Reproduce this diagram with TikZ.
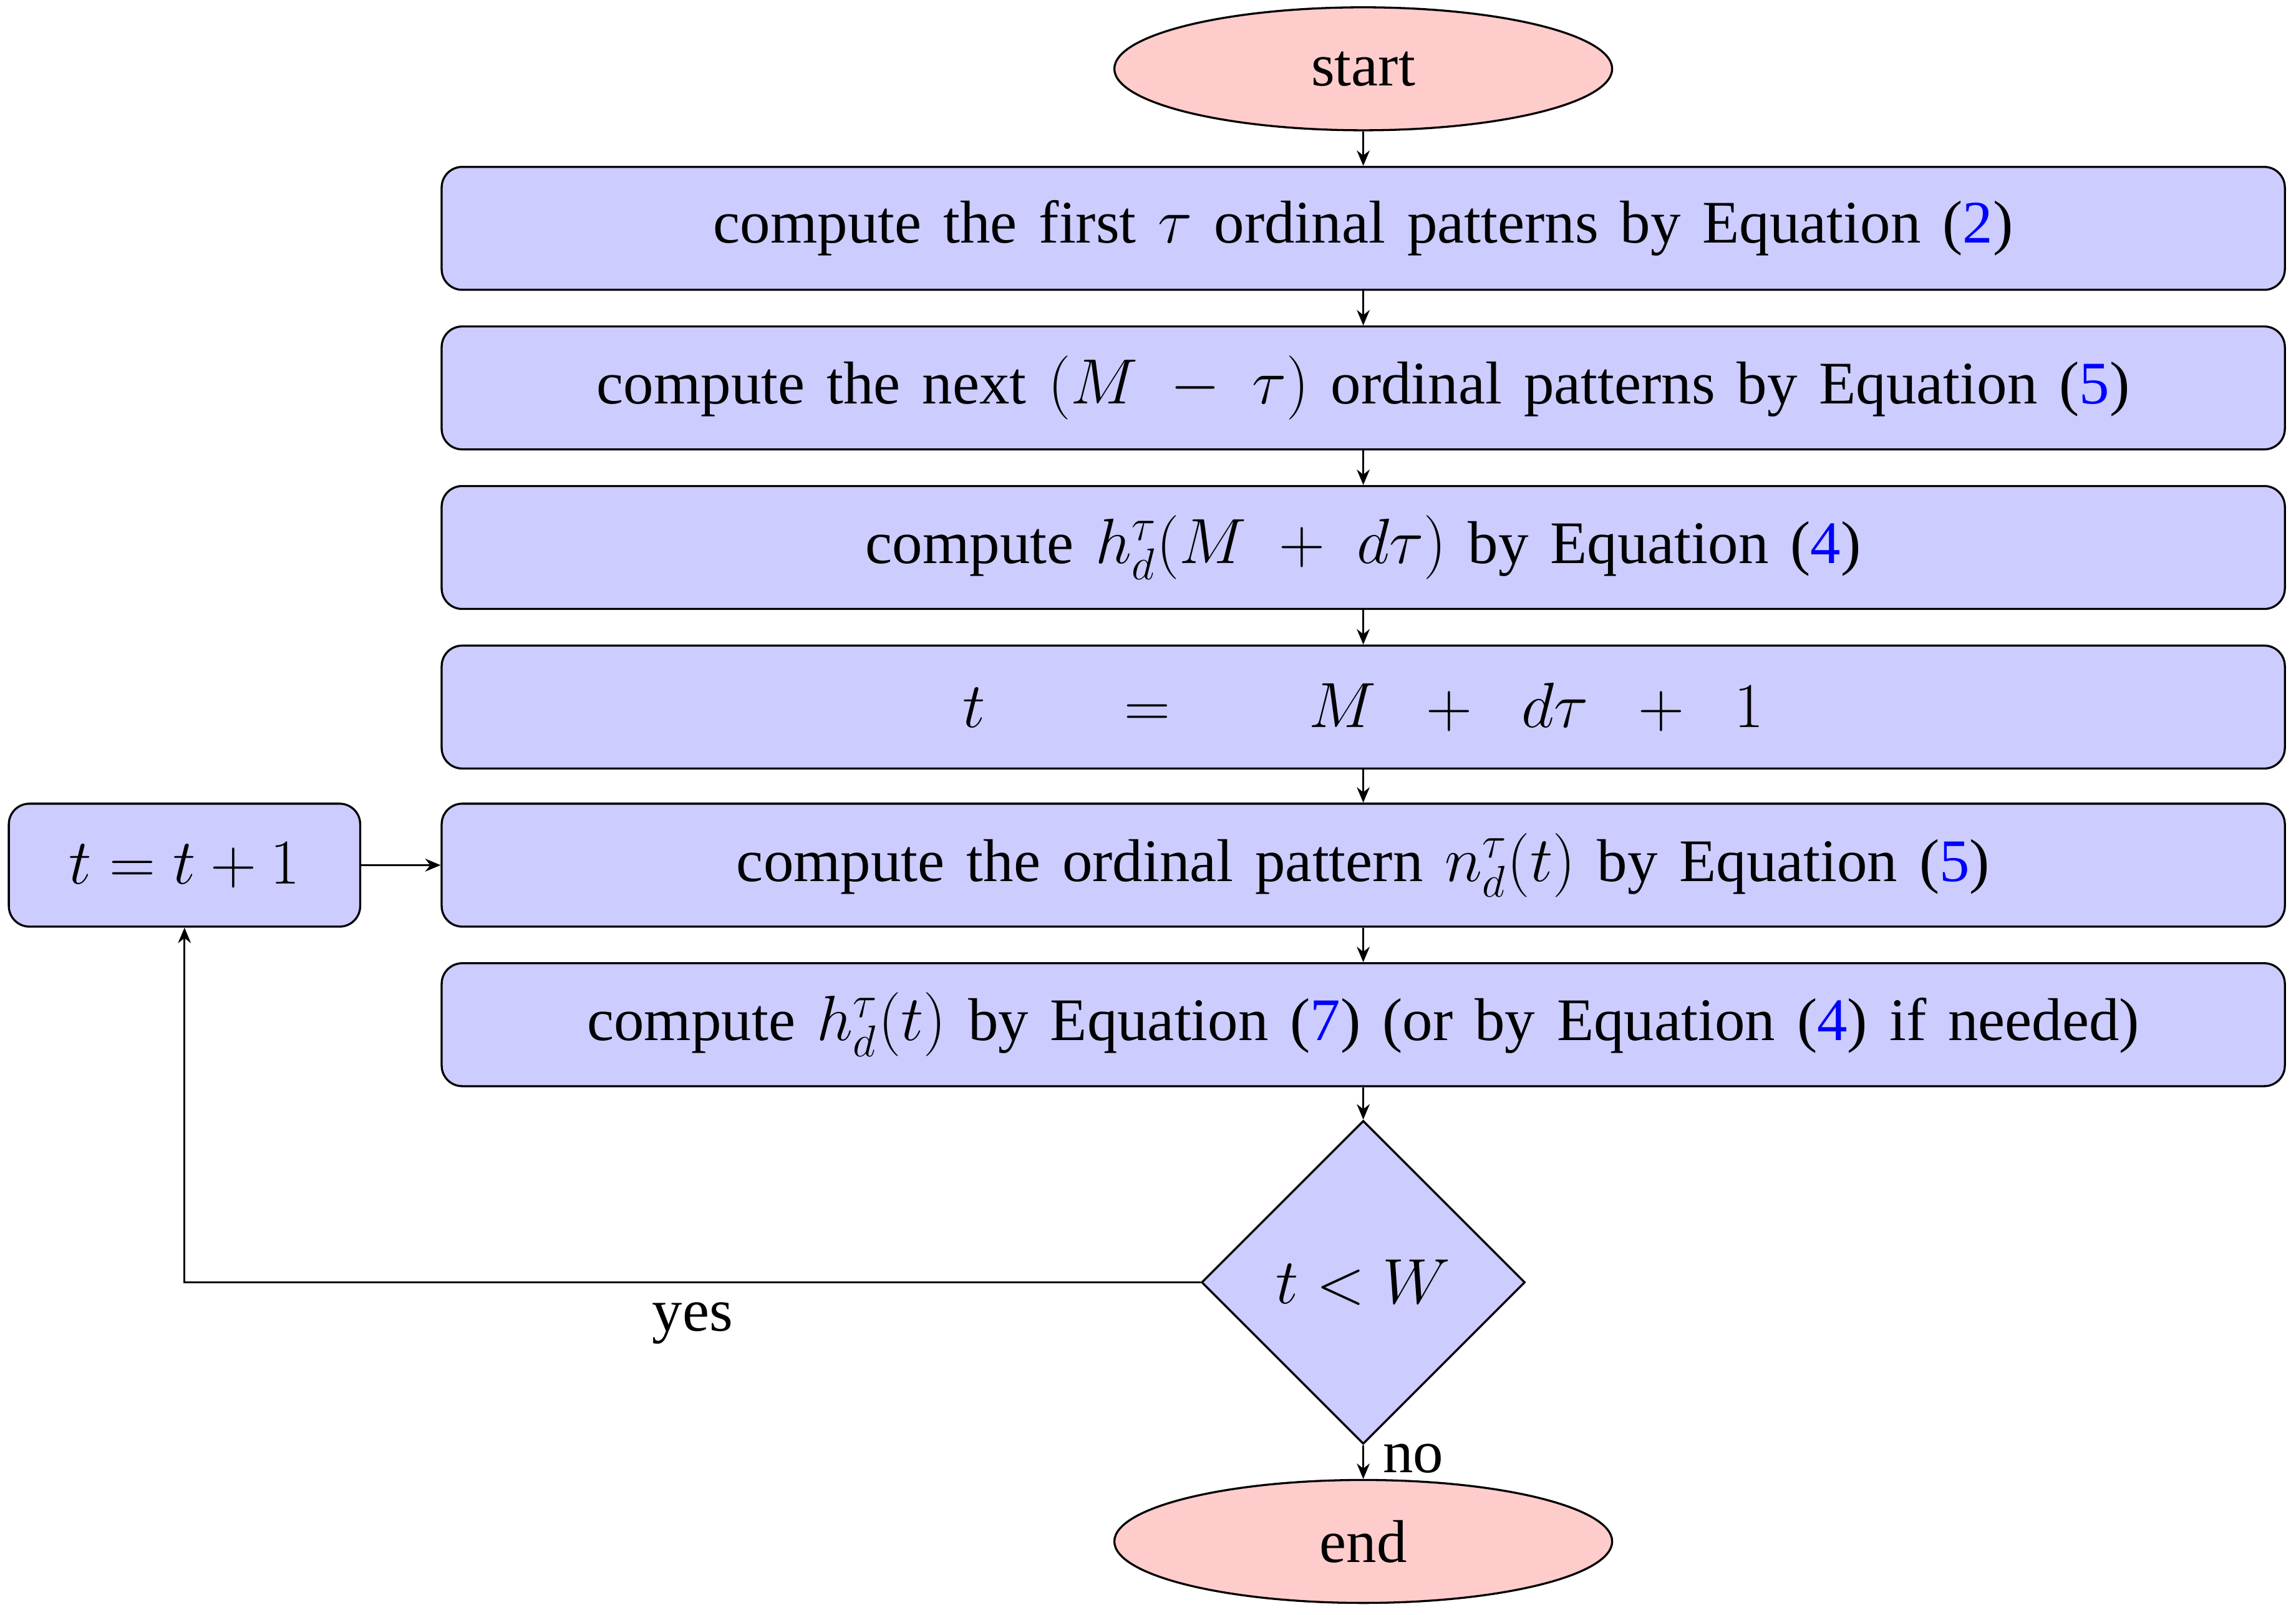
\documentclass[tikz,border=0pt]{standalone}
\usepackage{fontspec}
\setmainfont{Liberation Serif}
\usetikzlibrary{shapes.geometric,arrows.meta}
\newcommand{\myfnt}{\fontsize{23.5}{27}\selectfont\spaceskip=0.36em plus 0.1em\relax}
\begin{document}
\begin{tikzpicture}[x=0.02cm,y=-0.02cm,
  every node/.style={font=\myfnt},
  box/.style={draw,thick,rounded corners=8pt,fill=blue!20,minimum width=25.18cm,minimum height=1.68cm,inner sep=0pt},
  term/.style={draw,thick,ellipse,fill=red!20,minimum width=6.8cm,minimum height=1.68cm,inner sep=0pt},
  arr/.style={-{Stealth[length=6pt,width=5pt]},thick}]
\useasboundingbox (0,0) rectangle (1568,1103);
\node[term] (start) at (931,47) {start};
\node[box] (b1) at (931,156) {compute the first $\tau$ ordinal patterns by Equation (\textcolor{blue}{2})};
\node[box] (b2) at (931,265) {compute the next $(M\;-\;\tau)$ ordinal patterns by Equation (\textcolor{blue}{5})};
\node[box] (b3) at (931,374) {compute $h^{\tau}_{d}(M\;+\;d\tau)$ by Equation (\textcolor{blue}{4})};
\node[box] (b4) at (931,483) {$t\qquad=\qquad M\;\;+\;\;d\tau\;\;+\;\;1$};
\node[box] (b5) at (931,591) {compute the ordinal pattern $n^{\tau}_{d}(t)$ by Equation (\textcolor{blue}{5})};
\node[box] (b6) at (931,700) {compute $h^{\tau}_{d}(t)$ by Equation (\textcolor{blue}{7}) (or by Equation (\textcolor{blue}{4}) if needed)};
\node[draw,thick,diamond,fill=blue!20,minimum width=4.42cm,minimum height=4.42cm,inner sep=0pt] (dec) at (931,876) {$t<W$};
\node[term] (end) at (931,1053) {end};
\node[box,minimum width=4.8cm] (inc) at (126,591) {$t=t+1$};
\draw[arr] (start) -- (b1);
\draw[arr] (b1) -- (b2);
\draw[arr] (b2) -- (b3);
\draw[arr] (b3) -- (b4);
\draw[arr] (b4) -- (b5);
\draw[arr] (b5) -- (b6);
\draw[arr] (b6) -- (dec);
\draw[arr] (dec) -- node[right,pos=0.4,xshift=4pt] {no} (end);
\draw[arr] (dec.west) -- node[below,pos=0.5,yshift=-4pt] {yes} (inc.south |- dec.west) -- (inc.south);
\draw[arr] (inc) -- (b5);
\end{tikzpicture}
\end{document}
